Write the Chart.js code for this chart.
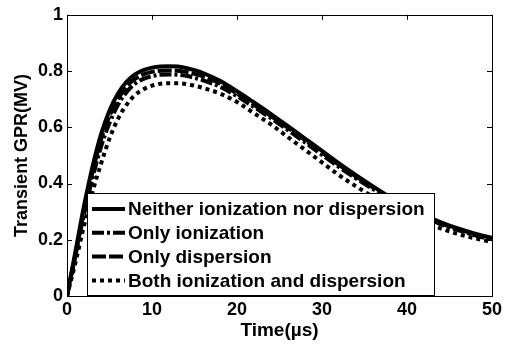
<!DOCTYPE html>
<html>
<head>
<meta charset="utf-8">
<script src="https://cdn.jsdelivr.net/npm/chart.js@4/dist/chart.umd.min.js"></script>
<style>
  html, body { margin: 0; padding: 0; background: #fff; }
  #wrap { width: 512px; height: 347px; }
</style>
</head>
<body>
<div id="wrap"><canvas id="gpr-chart" width="512" height="347"></canvas></div>
<script>
// time axis (µs)
const time = [0, 1, 2, 3, 4, 5, 6, 7, 8, 9, 10, 11, 12, 13, 14, 15, 16,
  18, 20, 22, 24, 26, 28, 30, 32, 34, 36, 38, 40, 42, 44, 46, 48, 50];

// transient GPR (MV)
const neither = [0, 0.16, 0.32, 0.46, 0.575, 0.66, 0.72, 0.762, 0.788, 0.803, 0.812, 0.816, 0.817, 0.816, 0.811, 0.803, 0.793,
  0.765, 0.728, 0.688, 0.647, 0.604, 0.56, 0.516, 0.472, 0.43, 0.39, 0.352, 0.318, 0.288, 0.262, 0.24, 0.222, 0.207];
const onlyIonization = [0, 0.145, 0.29, 0.42, 0.53, 0.615, 0.68, 0.725, 0.755, 0.772, 0.782, 0.787, 0.788, 0.787, 0.783, 0.776, 0.767,
  0.744, 0.71, 0.672, 0.632, 0.59, 0.546, 0.502, 0.458, 0.418, 0.38, 0.343, 0.31, 0.28, 0.255, 0.234, 0.216, 0.2];
const onlyDispersion = [0, 0.15, 0.3, 0.44, 0.555, 0.64, 0.7, 0.745, 0.772, 0.788, 0.797, 0.801, 0.802, 0.801, 0.797, 0.79, 0.781,
  0.756, 0.72, 0.68, 0.64, 0.598, 0.554, 0.51, 0.466, 0.425, 0.386, 0.348, 0.315, 0.285, 0.258, 0.237, 0.219, 0.203];
const bothEffects = [0, 0.12, 0.25, 0.37, 0.47, 0.56, 0.63, 0.68, 0.715, 0.735, 0.748, 0.755, 0.757, 0.757, 0.754, 0.748, 0.74,
  0.72, 0.69, 0.65, 0.61, 0.565, 0.52, 0.475, 0.43, 0.39, 0.353, 0.32, 0.29, 0.263, 0.24, 0.22, 0.205, 0.192];

const seriesLabels = [
  "Neither ionization nor dispersion",
  "Only ionization",
  "Only dispersion",
  "Both ionization and dispersion"
];

const xTicks = [0, 10, 20, 30, 40, 50];
const yTicks = [0, 0.2, 0.4, 0.6, 0.8, 1];

const FONT = "'Liberation Sans', Arial, sans-serif";

function toPoints(values) {
  return time.map((t, i) => ({ x: t, y: values[i] }));
}

function makeSet(label, values, dash) {
  return {
    label: label,
    data: toPoints(values),
    borderColor: "#000",
    backgroundColor: "#000",
    borderWidth: 4,
    borderDash: dash,
    borderCapStyle: "butt",
    pointRadius: 0,
    fill: false,
    cubicInterpolationMode: "monotone"
  };
}

// box, inward ticks and the boxed legend (MATLAB look)
const matlabFrame = {
  id: "matlabFrame",
  afterDatasetsDraw(chart) {
    const { ctx, chartArea: a, scales } = chart;
    ctx.save();
    ctx.strokeStyle = "#000";
    ctx.lineWidth = 1;
    ctx.strokeRect(Math.round(a.left) + 0.5, Math.round(a.top) + 0.5,
      Math.round(a.right - a.left), Math.round(a.bottom - a.top));

    const tl = 5;
    ctx.beginPath();
    xTicks.forEach(v => {
      const px = Math.round(scales.x.getPixelForValue(v)) + 0.5;
      ctx.moveTo(px, a.bottom); ctx.lineTo(px, a.bottom - tl);
      ctx.moveTo(px, a.top); ctx.lineTo(px, a.top + tl);
    });
    yTicks.forEach(v => {
      const py = Math.round(scales.y.getPixelForValue(v)) + 0.5;
      ctx.moveTo(a.left, py); ctx.lineTo(a.left + tl, py);
      ctx.moveTo(a.right, py); ctx.lineTo(a.right - tl, py);
    });
    ctx.stroke();

    // legend
    const lx = 87, ly = 193, lw = 347, lh = 102;
    ctx.fillStyle = "#fff";
    ctx.fillRect(lx, ly, lw, lh);
    ctx.strokeRect(lx + 0.5, ly + 0.5, lw, lh);

    ctx.font = "bold 19px " + FONT;
    ctx.textBaseline = "middle";
    ctx.textAlign = "left";
    chart.data.datasets.forEach((ds, i) => {
      const rowY = 209 + i * 23.8;
      ctx.beginPath();
      ctx.setLineDash(ds.borderDash || []);
      ctx.lineWidth = ds.borderWidth;
      ctx.lineCap = "butt";
      ctx.moveTo(92, rowY);
      ctx.lineTo(125, rowY);
      ctx.stroke();
      ctx.setLineDash([]);
      ctx.fillStyle = "#000";
      ctx.fillText(ds.label, 128, rowY + 1);
    });
    ctx.restore();
  }
};

const config = {
  type: "line",
  data: {
    datasets: [
      makeSet(seriesLabels[0], neither, []),
      makeSet(seriesLabels[1], onlyIonization, [12, 3, 3, 3]),
      makeSet(seriesLabels[2], onlyDispersion, [14, 3]),
      makeSet(seriesLabels[3], bothEffects, [4, 4])
    ]
  },
  options: {
    responsive: false,
    animation: false,
    layout: { padding: { top: 11, right: 20, left: 0, bottom: 0 } },
    plugins: {
      legend: { display: false },
      tooltip: { enabled: false }
    },
    scales: {
      x: {
        type: "linear",
        min: 0,
        max: 50,
        afterBuildTicks: s => { s.ticks = xTicks.map(v => ({ value: v })); },
        afterFit: s => { s.height = 51; },
        grid: { display: false, drawTicks: false },
        border: { display: false },
        ticks: {
          color: "#000",
          padding: 3,
          maxRotation: 0,
          font: { family: FONT, size: 18, weight: "bold" }
        },
        title: {
          display: true,
          text: "Time(µs)",
          color: "#000",
          padding: { top: 0, bottom: 5 },
          font: { family: FONT, size: 19, weight: "bold" }
        }
      },
      y: {
        min: 0,
        max: 1,
        afterBuildTicks: s => { s.ticks = yTicks.map(v => ({ value: v })); },
        afterFit: s => { s.width = 67; },
        grid: { display: false, drawTicks: false },
        border: { display: false },
        ticks: {
          color: "#000",
          padding: 4,
          font: { family: FONT, size: 18, weight: "bold" },
          callback: v => String(+v.toFixed(1))
        },
        title: {
          display: true,
          text: "Transient GPR(MV)",
          color: "#000",
          padding: { top: 11, bottom: 0 },
          font: { family: FONT, size: 18, weight: "bold" }
        }
      }
    }
  },
  plugins: [matlabFrame]
};

const ctx = document.getElementById("gpr-chart").getContext("2d");
window.gprChart = new Chart(ctx, config);
</script>
</body>
</html>
